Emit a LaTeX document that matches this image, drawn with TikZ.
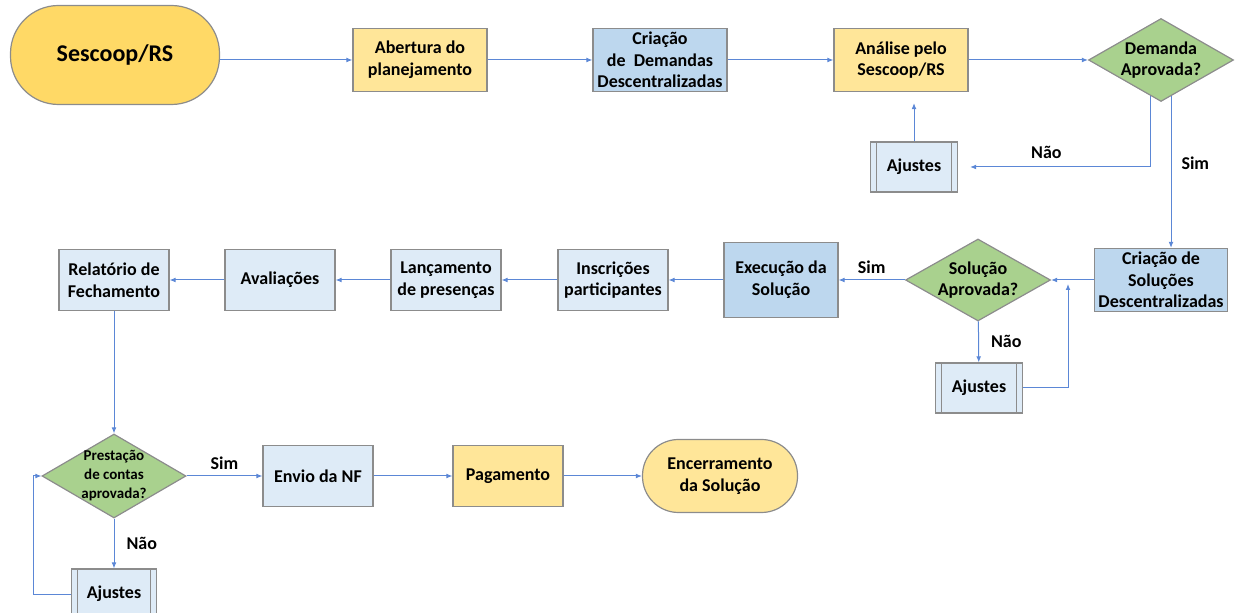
\documentclass[tikz,border=0pt]{standalone}
\usepackage{fontspec}
\setmainfont{Carlito}
\usetikzlibrary{shapes.geometric,arrows.meta}
\definecolor{gold}{HTML}{FFD966}
\definecolor{paleyellow}{HTML}{FFE699}
\definecolor{midblue}{HTML}{BDD7EE}
\definecolor{paleblue}{HTML}{DEEBF7}
\definecolor{leaf}{HTML}{A9D18E}
\definecolor{wirecol}{HTML}{5B87D6}
\begin{document}
\begin{tikzpicture}[x=0.5pt,y=-0.5pt,
  box/.style={draw=black!45, line width=0.6pt, align=center, inner sep=0.5pt,
    font=\bfseries\fontsize{9}{10.8}\selectfont, minimum width=55pt, minimum height=30.5pt},
  terminal/.style={box, rounded corners=#1},
  subproc/.style={box, fill=paleblue, minimum width=43.5pt, minimum height=25pt,
    path picture={\draw[black!45, line width=0.6pt]
      ([xshift=3pt]path picture bounding box.north west) -- ([xshift=3pt]path picture bounding box.south west)
      ([xshift=-3pt]path picture bounding box.north east) -- ([xshift=-3pt]path picture bounding box.south east);}},
  choice/.style={diamond, draw=black!45, line width=0.6pt, fill=leaf, inner sep=0pt,
    minimum width=72.5pt, minimum height=41.5pt},
  choicetext/.style={align=center, inner sep=0pt, font=\bfseries\fontsize{9}{10.8}\selectfont},
  lbl/.style={font=\bfseries\fontsize{9}{11}\selectfont, inner sep=1pt},
  wire/.style={draw=wirecol, line width=0.5pt, -{Latex[length=3pt,width=2.4pt]}}]
\useasboundingbox (0,0) rectangle (1235,613);

% first row
\node[terminal=24pt, fill=gold, minimum width=104.5pt, minimum height=49.5pt,
  font=\bfseries\fontsize{12}{14}\selectfont] (sescoop) at (115,55) {Sescoop/RS};
\node[box, fill=paleyellow, minimum width=67pt, minimum height=31.5pt] (abertura) at (420,60) {Abertura do\\planejamento};
\node[box, fill=midblue, minimum width=67pt, minimum height=31.5pt] (demandas) at (660,60) {Criação\\de~~Demandas\\Descentralizadas};
\node[box, fill=paleyellow, minimum width=67pt, minimum height=31.5pt] (analise) at (901,60) {Análise pelo\\Sescoop/RS};
\node[choice, label={[choicetext]center:Demanda\\Aprovada?}] (demanda) at (1161,60) {};
\node[subproc] (ajustesA) at (914,167) {Ajustes};

% second row
\node[box, fill=midblue, minimum width=66.5pt, minimum height=31.5pt] (solucoes) at (1161,280) {Criação de\\Soluções\\Descentralizadas};
\node[choice, minimum height=41pt, label={[choicetext]center:Solução\\Aprovada?}] (solucaoApr) at (978,280) {};
\node[subproc] (ajustesB) at (979,388) {Ajustes};
\node[box, fill=midblue, minimum width=57pt, minimum height=37.5pt] (execucao) at (781,280) {Execução da\\Solução};
\node[box, fill=paleblue] (inscricoes) at (613,280) {Inscrições\\participantes};
\node[box, fill=paleblue] (lancamento) at (446,280) {Lançamento\\de presenças};
\node[box, fill=paleblue] (avaliacoes) at (280,280) {Avaliações};
\node[box, fill=paleblue] (relatorio) at (114,280) {Relatório de\\Fechamento};

% third row
\node[choice, minimum width=72pt, minimum height=42pt,
  label={[choicetext, font=\bfseries\fontsize{7.5}{9.5}\selectfont]center:Prestação\\de contas\\aprovada?}] (prestacao) at (114,476) {};
\node[box, fill=paleblue] (envio) at (318,476) {Envio da NF};
\node[box, fill=paleyellow] (pagamento) at (508,476) {Pagamento};
\node[terminal=18pt, fill=paleyellow, minimum width=77.5pt, minimum height=36.5pt] (encerramento) at (720,476) {Encerramento\\da Solução};
\node[subproc, minimum width=42.5pt] (ajustesC) at (114,594) {Ajustes};

\coordinate (demNo) at ([xshift=-5.5pt,yshift=3pt]demanda.south);
\coordinate (demYes) at ([xshift=5pt,yshift=3pt]demanda.south);
\coordinate (retB) at (1068,284);

% connectors
\draw[wire] (sescoop.east |- abertura.west) -- (abertura.west);
\draw[wire] (abertura) -- (demandas);
\draw[wire] (demandas) -- (analise);
\draw[wire] (analise) -- (demanda);
\draw[wire, shorten >=6pt] (demNo) |- (ajustesA.east) node[lbl, pos=0.77, above=3pt] {Não};
\draw[wire] (demYes) -- (demYes |- solucoes.north) node[lbl, pos=0.44, right=4pt] {Sim};
\draw[wire, shorten >=5.5pt] (ajustesA.north) -- (ajustesA.north |- analise.south);
\draw[wire] (solucoes) -- (solucaoApr);
\draw[wire] (solucaoApr) -- (execucao) node[lbl, midway, above=2pt] {Sim};
\draw[wire] (solucaoApr) -- (ajustesB) node[lbl, midway, right=5pt] {Não};
\draw[wire] (ajustesB.east) -| (retB);
\draw[wire] (execucao) -- (inscricoes);
\draw[wire] (inscricoes) -- (lancamento);
\draw[wire] (lancamento) -- (avaliacoes);
\draw[wire] (avaliacoes) -- (relatorio);
\draw[wire] (relatorio) -- (prestacao);
\draw[wire] (prestacao) -- (envio) node[lbl, midway, above=2pt] {Sim};
\draw[wire] (envio) -- (pagamento);
\draw[wire] (pagamento) -- (encerramento);
\draw[wire] (prestacao) -- (ajustesC) node[lbl, midway, right=5pt] {Não};
\draw[wire] (ajustesC.west) -| ([xshift=-4pt]prestacao.west) -- (prestacao.west);
\end{tikzpicture}
\end{document}
